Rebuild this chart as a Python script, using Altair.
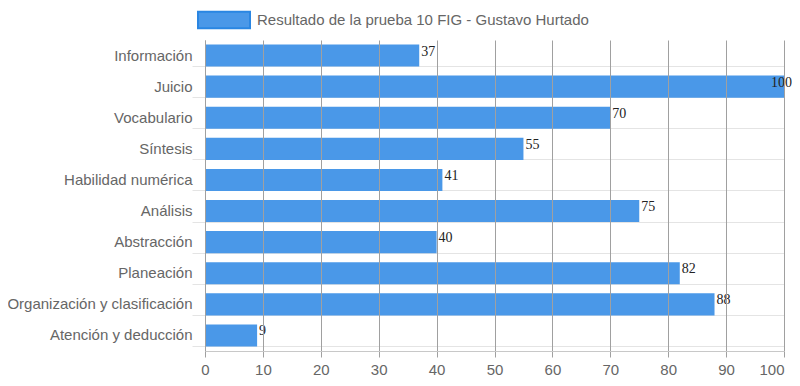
import altair as alt
import pandas as pd

categorias = [
    "Información", "Juicio", "Vocabulario", "Síntesis", "Habilidad numérica",
    "Análisis", "Abstracción", "Planeación", "Organización y clasificación",
    "Atención y deducción",
]
valores = [37, 100, 70, 55, 41, 75, 40, 82, 88, 9]
serie = "Resultado de la prueba 10 FIG - Gustavo Hurtado"
ticks_x = list(range(0, 101, 10))

df = pd.DataFrame({
    "categoria": categorias,
    "valor": valores,
    "serie": [serie] * len(categorias),
})

FONT = "Liberation Sans"
BLUE = "#4a98e8"

y_enc = alt.Y(
    "categoria:N", sort=categorias, title=None,
    scale=alt.Scale(paddingInner=0.29, paddingOuter=0.145),
    axis=alt.Axis(bandPosition=1, grid=True, gridColor="#e4e4e4", tickColor="#e4e4e4",
                  tickSize=13, domainColor="#9a9a9a", labelFont=FONT, labelFontSize=15,
                  labelColor="#666666", labelPadding=0, labelLimit=400),
)
x_enc = alt.X(
    "valor:Q", title=None, scale=alt.Scale(domain=[0, 100], nice=False),
    axis=alt.Axis(values=ticks_x, grid=True, gridColor="#a0a0a0", tickColor="#a0a0a0",
                  domainColor="#c8c8c8", tickSize=6, labelFont=FONT, labelFontSize=15,
                  labelColor="#666666", labelPadding=5, labelFlush=False, zindex=1,
                  labelAlign=alt.ExprRef("datum.value == 100 ? 'right' : 'center'")),
)

bars = alt.Chart(df).mark_bar(opacity=1).encode(
    x=x_enc, y=y_enc,
    color=alt.Color(
        "serie:N",
        scale=alt.Scale(domain=[serie], range=[BLUE]),
        legend=alt.Legend(
            title=None, orient="none", legendX=-8, legendY=-47,
            symbolType="M-1,-0.32H1V0.32H-1Z", symbolSize=2704,
            symbolStrokeColor="#2a86e2", symbolStrokeWidth=2, symbolOpacity=1,
            labelFont=FONT, labelFontSize=15, labelColor="#666666", labelOffset=6,
            labelLimit=600,
        ),
    ),
)

labels = alt.Chart(df).mark_text(
    align=alt.ExprRef("datum.valor >= 100 ? 'right' : 'left'"),
    dx=alt.ExprRef("datum.valor >= 100 ? 8 : 2"),
    baseline="alphabetic", font="Liberation Serif",
    fontSize=14, color="#222222",
).encode(
    x=alt.X("valor:Q"), y=alt.Y("categoria:N", sort=categorias), text="valor:Q",
)

chart = alt.layer(bars, labels).properties(
    width=579, height=311,
    autosize=alt.AutoSizeParams(type="none"),
    padding={"left": 197, "top": 32, "right": 8, "bottom": 25},
).configure_view(stroke=None)

chart.save("out.html", embed_options={"renderer": "svg", "actions": False})
